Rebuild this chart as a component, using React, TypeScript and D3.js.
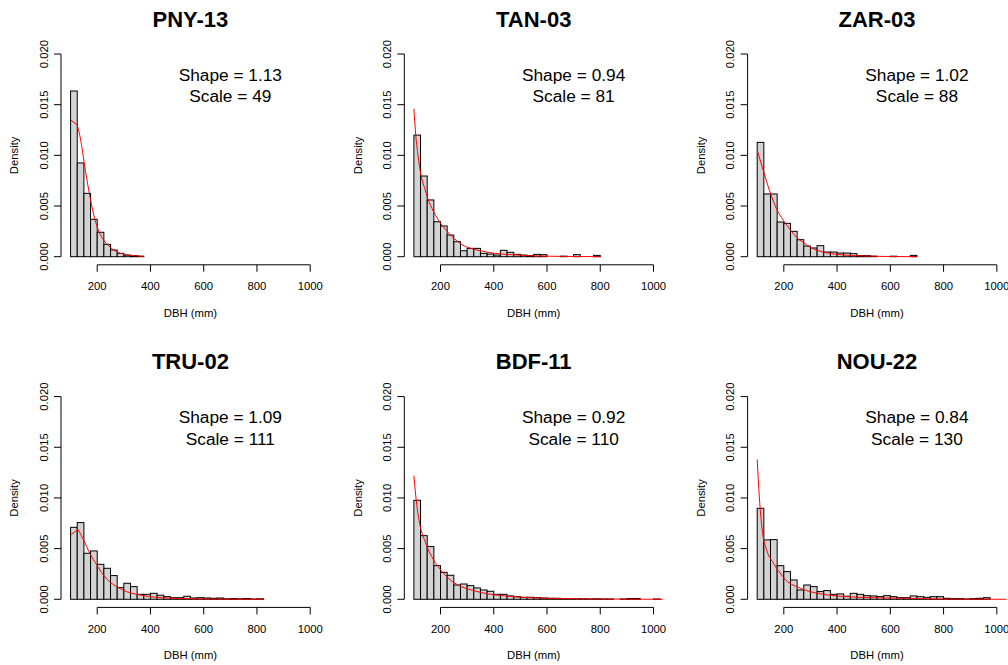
import React from "react";
import * as d3 from "d3";

// ---- data ----
const siteNames = ["PNY-13", "TAN-03", "ZAR-03", "TRU-02", "BDF-11", "NOU-22"];
const shapeValues = ["1.13", "0.94", "1.02", "1.09", "0.92", "0.84"];
const scaleValues = ["49", "81", "88", "111", "110", "130"];

const binStart = 100;
const binWidth = 25;

const pny13Density = [0.01635, 0.00925, 0.00625, 0.00369, 0.00241, 0.00122, 0.00066, 0.00033, 0.00015, 0.0001, 0.00005];
const tan03Density = [0.012, 0.00796, 0.0056, 0.00345, 0.00303, 0.00214, 0.00148, 0.00059, 0.00082, 0.00082, 0.00033, 0.00026, 0.00016, 0.00063, 0.00043, 0.00023, 0.00016, 0.0001, 0.00023, 0.0002, 0, 0, 0.00005, 0, 0.0002, 0, 0, 0.00013];
const zar03Density = [0.01128, 0.00619, 0.00619, 0.00342, 0.00329, 0.0025, 0.00168, 0.00105, 0.00086, 0.00109, 0.00046, 0.00046, 0.00036, 0.00036, 0.0003, 0.0001, 0.0001, 0.00005, 0, 0, 0.00005, 0, 0, 0.00013];
const tru02Density = [0.0071, 0.00757, 0.00454, 0.00477, 0.00345, 0.00306, 0.00234, 0.00115, 0.00158, 0.00125, 0.00049, 0.00049, 0.00059, 0.0004, 0.00026, 0.00016, 0.00016, 0.0003, 0.00013, 0.00016, 0.00013, 0.0001, 0.00013, 0.00005, 0.00008, 0.00005, 0.00008, 0.00003, 0.00005];
const bdf11Density = [0.00977, 0.00628, 0.0052, 0.00332, 0.00266, 0.00237, 0.00141, 0.00151, 0.00135, 0.00112, 0.00092, 0.00079, 0.00049, 0.00049, 0.00033, 0.00026, 0.0002, 0.0002, 0.00016, 0.00013, 0.0001, 0.0001, 0.00008, 0.00005, 0.00005, 0.00005, 0.00003, 0.00005, 0.00003, 0.00003, 0, 0.00003, 0.00008, 0.00008, 0, 0, 0.00003];
const nou22Density = [0.00898, 0.00586, 0.00589, 0.00332, 0.00273, 0.00191, 0.00092, 0.00141, 0.00125, 0.00076, 0.00086, 0.00049, 0.00053, 0.0003, 0.00059, 0.00049, 0.00036, 0.00033, 0.00026, 0.00036, 0.00026, 0.00016, 0.00016, 0.00033, 0.00026, 0.0002, 0.00026, 0.00026, 0.0001, 0.00007, 0.00007, 0.00003, 0.00007, 0.0001, 0.00016, 0];

// fitted Weibull curves: [DBH, density]
const pny13Curve = [[100, 0.0135], [125, 0.013], [138, 0.0115], [151, 0.0093], [170, 0.0063], [190, 0.0038], [208, 0.0024], [225, 0.0016], [242, 0.0011], [260, 0.0007], [280, 0.0004], [310, 0.0002], [340, 0.0001], [375, 0.00003]];
const tan03Curve = [[100, 0.0146], [107, 0.012], [116, 0.0099], [127, 0.008], [140, 0.0068], [150, 0.0059], [175, 0.0044], [200, 0.0033], [225, 0.0025], [242, 0.002], [260, 0.0016], [280, 0.0012], [317, 0.0008], [354, 0.00056], [404, 0.00033], [467, 0.0002], [530, 0.0001], [655, 0.00003], [800, 0]];
const zar03Curve = [[100, 0.0105], [123, 0.0085], [148, 0.0064], [173, 0.0047], [198, 0.0036], [223, 0.0027], [248, 0.0019], [273, 0.0014], [298, 0.00095], [348, 0.00046], [411, 0.0002], [499, 0.00007], [600, 0.00002], [700, 0]];
const tru02Curve = [[100, 0.00635], [128, 0.0069], [148, 0.0059], [173, 0.0045], [198, 0.0034], [223, 0.0024], [248, 0.0017], [273, 0.00125], [310, 0.00076], [348, 0.00049], [398, 0.00026], [460, 0.00013], [523, 0.00007], [648, 0.00002], [825, 0]];
const bdf11Curve = [[100, 0.0122], [110, 0.0095], [123, 0.0073], [142, 0.0057], [167, 0.0042], [192, 0.0032], [217, 0.0024], [242, 0.0018], [279, 0.00125], [329, 0.00082], [379, 0.00053], [442, 0.00033], [530, 0.00016], [655, 0.00007], [780, 0.00003], [1035, 0]];
const nou22Curve = [[100, 0.0138], [108, 0.0101], [120, 0.0066], [135, 0.0049], [160, 0.0036], [186, 0.0026], [211, 0.0018], [248, 0.00125], [286, 0.00086], [348, 0.00049], [411, 0.0003], [536, 0.00016], [661, 0.0001], [786, 0.00003], [1040, 0]];

const densities = [pny13Density, tan03Density, zar03Density, tru02Density, bdf11Density, nou22Density];
const curves = [pny13Curve, tan03Curve, zar03Curve, tru02Curve, bdf11Curve, nou22Curve];
// panels whose fitted curve shows a visible corner at the second point
const kinkedCurve = [true, false, false, true, false, false];

const xTicks = [200, 400, 600, 800, 1000];
const yTicks = [0, 0.005, 0.01, 0.015, 0.02];
const yTickLabels = ["0.000", "0.005", "0.010", "0.015", "0.020"];

// ---- layout ----
const W = 1008;
const H = 665;
const COL_STEP = 343.3;
const ROW_STEP = 342.6;
const PLOT_L = 61;
const PLOT_R = 319.8;
const PLOT_T = 45.9;
const PLOT_B = 264.8;
const FONT = "'Liberation Sans', Arial, Helvetica, sans-serif";

const xScale = d3.scaleLinear().domain([64, 1036]).range([PLOT_L, PLOT_R]);
const yScale = d3.scaleLinear().domain([-0.0008, 0.0208]).range([PLOT_B, PLOT_T]);

function Panel({ idx }: { idx: number }) {
  const col = idx % 3;
  const row = Math.floor(idx / 3);
  const dens = densities[idx];
  const curve = curves[idx];
  const smooth = d3
    .line<number[]>()
    .x((d) => xScale(d[0]))
    .y((d) => yScale(d[1]))
    .curve(d3.curveMonotoneX);
  const straight = d3
    .line<number[]>()
    .x((d) => xScale(d[0]))
    .y((d) => yScale(d[1]));
  const pathD = kinkedCurve[idx]
    ? (straight(curve.slice(0, 2)) || "") + (smooth(curve.slice(1)) || "").replace(/^M/, "L")
    : smooth(curve) || "";
  const cx = (PLOT_L + PLOT_R) / 2;
  const clipId = `clip-${idx}`;
  const tickLen = 7;
  return (
    <g transform={`translate(${col * COL_STEP},${row * ROW_STEP})`}>
      <defs>
        <clipPath id={clipId}>
          <rect x={PLOT_L} y={PLOT_T} width={PLOT_R - PLOT_L} height={PLOT_B - PLOT_T} />
        </clipPath>
      </defs>
      {dens.map((d, i) => {
        const x0 = xScale(binStart + i * binWidth);
        const x1 = xScale(binStart + (i + 1) * binWidth);
        const y0 = yScale(d);
        const yb = yScale(0);
        return (
          <rect
            key={i}
            x={x0}
            y={y0}
            width={x1 - x0}
            height={Math.max(0, yb - y0)}
            fill="#d3d3d3"
            stroke="#000"
            strokeWidth={1}
          />
        );
      })}
      <path d={pathD} fill="none" stroke="#ff0000" strokeWidth={1} clipPath={`url(#${clipId})`} />
      <line x1={xScale(xTicks[0])} x2={xScale(xTicks[xTicks.length - 1])} y1={PLOT_B} y2={PLOT_B} stroke="#000" />
      {xTicks.map((t) => (
        <g key={t}>
          <line x1={xScale(t)} x2={xScale(t)} y1={PLOT_B} y2={PLOT_B + tickLen} stroke="#000" />
          <text x={xScale(t)} y={290} textAnchor="middle" fontSize={11.3} fontFamily={FONT} fill="#000">
            {t}
          </text>
        </g>
      ))}
      <line x1={PLOT_L} x2={PLOT_L} y1={yScale(yTicks[0])} y2={yScale(yTicks[yTicks.length - 1])} stroke="#000" />
      {yTicks.map((t, i) => (
        <g key={t}>
          <line x1={PLOT_L - tickLen} x2={PLOT_L} y1={yScale(t)} y2={yScale(t)} stroke="#000" />
          <text
            transform={`translate(47.7,${yScale(t)}) rotate(-90)`}
            textAnchor="middle"
            fontSize={11.3}
            fontFamily={FONT}
            fill="#000"
          >
            {yTickLabels[i]}
          </text>
        </g>
      ))}
      <text x={cx} y={316.7} textAnchor="middle" fontSize={11.3} fontFamily={FONT} fill="#000">
        DBH (mm)
      </text>
      <text
        transform={`translate(18.3,${(PLOT_T + PLOT_B) / 2}) rotate(-90)`}
        textAnchor="middle"
        fontSize={11.3}
        fontFamily={FONT}
        fill="#000"
      >
        Density
      </text>
      <text x={cx} y={26.7} textAnchor="middle" fontSize={22} fontWeight="bold" fontFamily={FONT} fill="#000">
        {siteNames[idx]}
      </text>
      <text x={xScale(700)} y={80.7} textAnchor="middle" fontSize={17.3} fontFamily={FONT} fill="#000">
        {`Shape = ${shapeValues[idx]}`}
      </text>
      <text x={xScale(700)} y={102} textAnchor="middle" fontSize={17.3} fontFamily={FONT} fill="#000">
        {`Scale = ${scaleValues[idx]}`}
      </text>
    </g>
  );
}

export default function App() {
  return (
    <svg
      width={W}
      height={H}
      viewBox={`0 0 ${W} ${H}`}
      style={{ position: "absolute", left: 0, top: 0, background: "#fff", display: "block" }}
    >
      <rect x={0} y={0} width={W} height={H} fill="#fff" />
      {siteNames.map((_, i) => (
        <Panel key={i} idx={i} />
      ))}
    </svg>
  );
}
